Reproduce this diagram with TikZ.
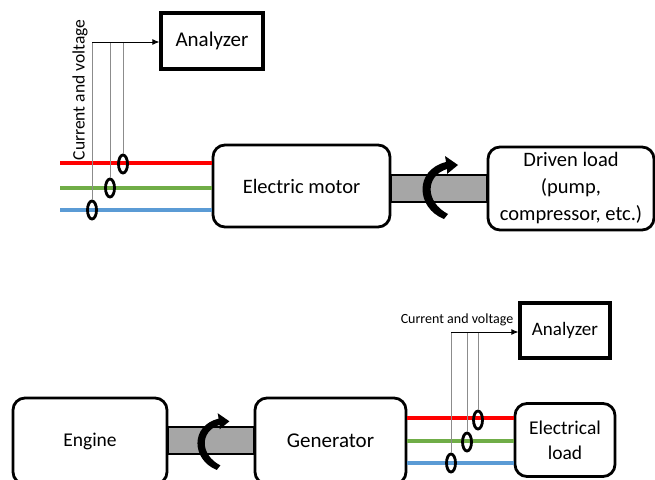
\documentclass[tikz,border=0pt]{standalone}
\usepackage{fontspec}
\setmainfont{Carlito}
\usetikzlibrary{arrows.meta,shapes.geometric}
\definecolor{wred}{HTML}{FF0000}
\definecolor{wgreen}{HTML}{70AD47}
\definecolor{wblue}{HTML}{5B9BD5}
\definecolor{shaftgray}{HTML}{A6A6A6}
\tikzset{
  rbox/.style={draw=black,line width=2.8pt,rounded corners=12pt,fill=white},
  abox/.style={draw=black,line width=3.2pt,fill=white},
  wire/.style={line width=3.4pt},
  tap/.style={draw=black!45,line width=1pt},
  feed/.style={draw=black,line width=0.9pt,-{Latex[length=7pt,width=6pt]}},
  ring/.style={draw=black,line width=2.8pt,ellipse,inner sep=0pt,minimum width=9pt,minimum height=18pt},
  shaft/.style={draw=black,line width=1.2pt,fill=shaftgray},
  rotarrow/.pic={
    \fill[black] (22,31) .. controls (-6,20) and (-8,-18) .. (24,-26)
      -- (23,-32) -- (36,-23) -- (25,-14) -- (25,-19)
      .. controls (3,-12) and (3,14) .. (26,26) -- cycle;
  }
}
\begin{document}
\begin{tikzpicture}[x=1pt,y=-1pt]
\useasboundingbox (0,0) rectangle (655,479);
\clip (0,0) rectangle (655,479);

% ---------------- top system ----------------
\coordinate (rL) at (60,163);
\coordinate (gL) at (60,188);
\coordinate (bL) at (60,210);
\node[rbox,minimum width=177pt,minimum height=82pt,font=\fontsize{20.5}{24}\selectfont] (motor) at (301.5,186) {Electric motor};
\node[rbox,minimum width=166pt,minimum height=83pt,align=center,font=\fontsize{20.5}{27}\selectfont] (driven) at (571,188.5) {Driven load\\(pump,\\compressor, etc.)};
\node[abox,minimum width=102pt,minimum height=56pt,font=\fontsize{21}{24}\selectfont] (an1) at (212,41) {Analyzer};

\draw[shaft] (motor.east |- 0,175) rectangle (driven.west |- 0,202);
\pic at (422,188) {rotarrow};

\draw[wire,wred] (rL) -- (rL -| motor.west);
\draw[wire,wgreen] (gL) -- (gL -| motor.west);
\draw[wire,wblue] (bL) -- (bL -| motor.west);

\coordinate (t1) at (92,42);
\node[ring] (c1r) at (123,164) {};
\node[ring] (c1g) at (110,188) {};
\node[ring] (c1b) at (92,210) {};
\draw[tap] (c1b.north) -- (c1b.north |- t1);
\draw[tap] (c1g.north) -- (c1g.north |- t1);
\draw[tap] (c1r.north) -- (c1r.north |- t1);
\draw[feed] (t1) -- (an1.west |- t1);
\node[rotate=90,font=\fontsize{17.5}{20}\selectfont,inner sep=0pt] (lab1) at (80,90) {Current and voltage};

% ---------------- bottom system ----------------
\node[rbox,minimum width=154pt,minimum height=86pt,font=\fontsize{19.5}{23}\selectfont] (engine) at (90,441) {Engine};
\node[rbox,minimum width=151pt,minimum height=86pt,font=\fontsize{21}{24}\selectfont] (gen) at (330.5,441) {Generator};
\node[rbox,minimum width=100pt,minimum height=73pt,align=center,font=\fontsize{19.5}{25}\selectfont] (eload) at (565,440) {Electrical\\load};
\node[abox,minimum width=90pt,minimum height=55pt,font=\fontsize{19}{22}\selectfont] (an2) at (565,330.5) {Analyzer};

\draw[shaft] (engine.east |- 0,427) rectangle (gen.west |- 0,454);
\pic[scale=0.9] at (197,442) {rotarrow};

\draw[wire,wred] (gen.east |- 0,418) -- (eload.west |- 0,418);
\draw[wire,wgreen] (gen.east |- 0,441) -- (eload.west |- 0,441);
\draw[wire,wblue] (gen.east |- 0,463) -- (eload.west |- 0,463);

\coordinate (t2) at (451,332);
\node[ring] (c2r) at (478,420) {};
\node[ring] (c2g) at (467,442) {};
\node[ring] (c2b) at (451,463) {};
\draw[tap] (c2b.north) -- (c2b.north |- t2);
\draw[tap] (c2g.north) -- (c2g.north |- t2);
\draw[tap] (c2r.north) -- (c2r.north |- t2);
\draw[feed] (t2) -- (an2.west |- t2);
\node[font=\fontsize{14}{16}\selectfont,inner sep=0pt] (lab2) at (457,320) {Current and voltage};
\end{tikzpicture}
\end{document}
